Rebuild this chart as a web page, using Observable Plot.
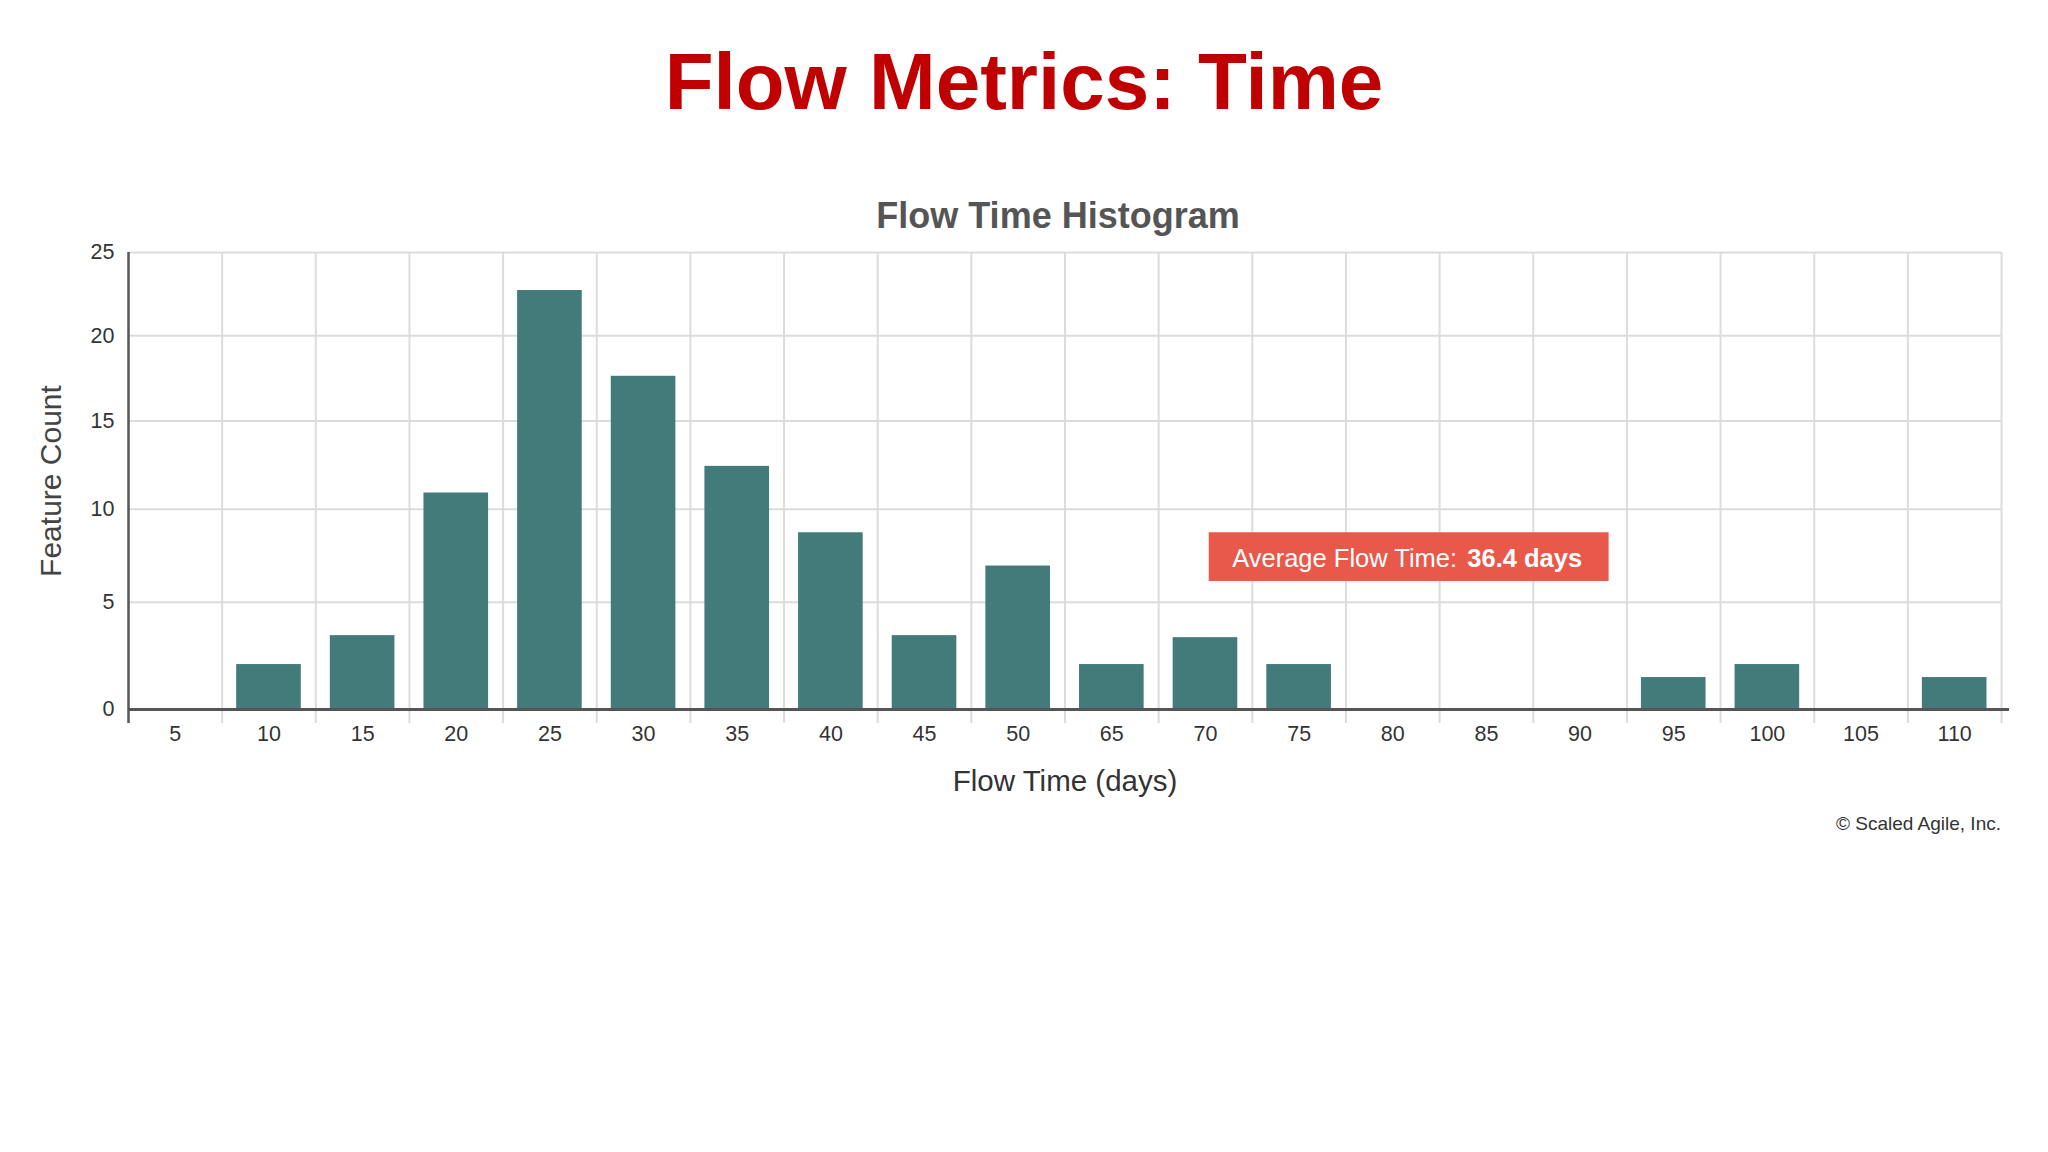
<!DOCTYPE html>
<html>
<head>
<meta charset="utf-8">
<script src="https://cdn.jsdelivr.net/npm/d3@7"></script>
<script src="https://cdn.jsdelivr.net/npm/@observablehq/plot@0.6"></script>
<style>
  html, body { margin: 0; padding: 0; background: #ffffff; }
  #wrap { position: relative; width: 2048px; height: 1152px; overflow: hidden; font-family: "Liberation Sans", Arial, Helvetica, sans-serif; }
  .abs { position: absolute; white-space: nowrap; line-height: 1; }
  #title { left: 0; width: 2048px; text-align: center; top: 42px; font-size: 80px; font-weight: bold; color: #c00000; z-index: 2; }
  #subtitle { left: 0; width: 2116px; text-align: center; top: 198px; font-size: 36px; font-weight: bold; color: #555555; z-index: 2; }
  #credit { right: 47px; top: 814px; font-size: 19px; color: #333333; z-index: 2; }
  #chart { position: absolute; left: 0; top: 0; z-index: 1; }
</style>
</head>
<body>
<div id="wrap">
  <div id="chart"></div>
  <div id="title" class="abs">Flow Metrics: Time</div>
  <div id="subtitle" class="abs">Flow Time Histogram</div>
  <div id="credit" class="abs">© Scaled Agile, Inc.</div>
</div>
<script>
// ---- data ----
const categories = ["5","10","15","20","25","30","35","40","45","50","65","70","75","80","85","90","95","100","105","110"];
const counts     = [0, 1.9, 3.3, 10.9, 22.7, 17.6, 12.4, 8.7, 3.3, 6.9, 1.9, 3.2, 1.9, 0, 0, 0, 1.3, 1.9, 0, 1.3];
const yTicks     = [0, 5, 10, 15, 20, 25];
const avgLabel   = "Average Flow Time:";
const avgValue   = "36.4 days";
const xLabel     = "Flow Time (days)";
const yLabel     = "Feature Count";

const data = categories.map((c, i) => ({i, category: c, count: counts[i]}));
const n = categories.length;
const pad = 0.155;

const plot = Plot.plot({
  width: 2048,
  height: 860,
  marginTop: 252,
  marginBottom: 151,
  marginLeft: 128,
  marginRight: 47,
  style: {fontFamily: '"Liberation Sans", Arial, Helvetica, sans-serif', background: "white", color: "#333"},
  x: {type: "linear", domain: [0, n], axis: null},
  y: {type: "pow", exponent: 0.9, domain: [0, 25], axis: null},
  marks: [
    Plot.gridY({ticks: yTicks.slice(1), stroke: "#dcdcdc", strokeOpacity: 1, strokeWidth: 2}),
    Plot.ruleX(d3.range(1, n + 1), {stroke: "#dcdcdc", strokeWidth: 2, insetBottom: -14}),
    Plot.rectY(data.filter(d => d.count > 0), {
      x1: d => d.i + pad, x2: d => d.i + 1 - pad, y: "count", fill: "#437a7a"
    }),
    Plot.ruleX([0], {stroke: "#555", strokeWidth: 2.5, insetBottom: -14}),
    Plot.ruleY([0], {stroke: "#555", strokeWidth: 3, insetRight: -8}),
    Plot.axisY({ticks: yTicks, tickSize: 0, tickPadding: 14, fontSize: 21.5, fill: "#333", label: null}),
    Plot.axisX({
      ticks: d3.range(n).map(i => i + 0.5),
      tickFormat: v => categories[Math.floor(v)],
      tickSize: 0, tickPadding: 16, fontSize: 21.5, fill: "#333", label: null
    }),
    Plot.text([xLabel], {frameAnchor: "bottom", dy: 81, lineAnchor: "bottom", textAnchor: "middle", fontSize: 29.5, fill: "#333"}),
    Plot.text([yLabel], {frameAnchor: "left", dx: -89, rotate: -90, lineAnchor: "top", textAnchor: "middle", fontSize: 30, fill: "#444"}),
    // annotation badge
    Plot.rect([avgValue], {x1: 11.54, x2: 15.81, y1: 6.08, y2: 8.7, fill: "#e9594a"}),
    Plot.text([avgLabel], {x: 11.54, y: 7.3, dx: 23, textAnchor: "start", lineAnchor: "middle", fontSize: 25.5, fill: "white", className: "badge"})
  ]
});

document.getElementById("chart").appendChild(plot);

// mixed-weight badge text
const t = d3.select(plot).select("g.badge text");
t.text(null);
t.append("tspan").text(avgLabel);
t.append("tspan").attr("dx", "0.4em").attr("font-weight", "bold").text(avgValue);
</script>
</body>
</html>
